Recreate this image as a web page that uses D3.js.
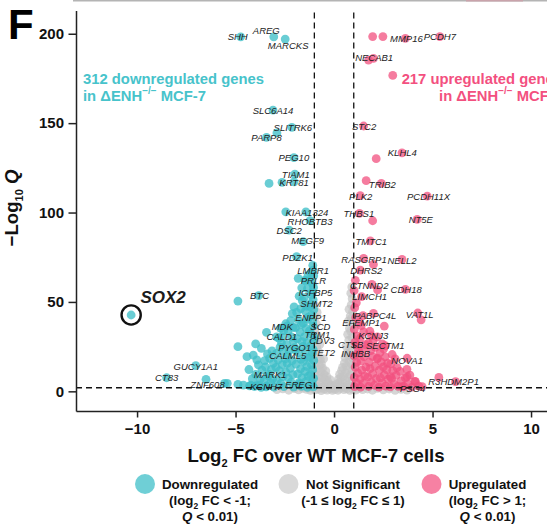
<!DOCTYPE html>
<html><head><meta charset="utf-8">
<script src="https://cdn.jsdelivr.net/npm/d3@7"></script>
<style>
body{margin:0;background:#fff;}
svg{display:block;font-family:"Liberation Sans",Arial,Helvetica,sans-serif;}
</style></head><body>
<svg id="chart" width="547" height="524"></svg>
<script>
// ---- Volcano plot data: log2 fold change vs -log10 Q ----

// Downregulated genes that carry a name tag: [gene, log2FC, -log10 Q]
const downLabeled = [
  ["SHH",-4.74,198.3],["AREG",-3.06,198.3],["MARCKS",-2.48,197.0],["SLC6A14",-3.10,157.3],
  ["SLITRK6",-2.14,147.6],["PARP8",-3.43,142.0],["PEG10",-2.04,130.7],["TIAM1",-1.99,121.5],
  ["KRT81",-2.03,117.2],["KIAA1324",-1.43,100.4],["RHOBTB3",-1.22,95.5],["DSC2",-2.28,90.2],
  ["MEGF9",-1.57,83.7],["PDZK1",-1.90,75.3],["LMBR1",-1.06,67.8],["PRLR",-1.25,62.0],
  ["IGFBP5",-1.10,55.5],["SHMT2",-1.20,49.0],["ENPP1",-1.30,41.5],["SCD",-1.05,36.5],
  ["TRM1",-1.15,32.0],["CDV3",-1.05,28.5],["TET2",-1.10,21.5],["MDK",-2.40,36.5],
  ["CALD1",-2.65,30.5],["PYGO1",-2.00,24.5],["CALML5",-2.35,20.0],["MARK1",-3.30,9.5],
  ["KCNH7",-3.45,2.5],["EREG",-1.80,4.0],["ZNF608",-5.56,4.5],["GUCY1A1",-7.02,14.4],
  ["CT83",-8.50,7.6],["BTC",-3.83,53.5],["SOX2",-10.30,42.7]
];

// Other downregulated genes: [log2FC, -log10 Q]
const downOther = [
  [-2.64,116.9],[-3.30,116.3],[-2.90,144.5],[-2.45,100.4],[-1.82,63.2],[-1.48,62.2],
  [-4.88,50.5],[-4.88,25.0],[-4.42,19.4],[-3.98,26.5],[-3.43,33.0],[-3.69,24.0],[-2.92,30.5],
  [-6.50,6.7],[-5.42,4.5],[-4.88,3.9],[-4.60,3.5],[-4.29,3.0],[-3.95,3.0],
  [-1.05,2.5],[-1.12,4.8],[-1.04,7.2],[-1.20,9.5],[-1.08,12.1],[-1.15,14.6],[-1.03,17.3],
  [-1.22,19.1],[-1.06,23.4],[-1.18,25.6],[-1.02,30.2],[-1.25,33.8],[-1.08,38.9],[-1.14,42.7],
  [-1.03,45.6],[-1.21,47.3],[-1.06,51.2],[-1.16,53.9],[-1.04,58.1],[-1.11,60.4],[-1.03,64.6],
  [-1.18,66.2],[-1.08,70.5],
  [-1.35,2.2],[-1.42,5.6],[-1.31,8.4],[-1.48,11.2],[-1.38,13.9],[-1.55,16.8],[-1.33,18.7],
  [-1.45,22.3],[-1.58,25.1],[-1.36,27.4],[-1.50,30.6],[-1.41,35.2],[-1.57,38.1],[-1.33,40.3],
  [-1.46,44.8],[-1.39,47.6],[-1.52,52.4],[-1.35,57.5],[-1.44,61.8],[-1.32,64.9],
  [-1.65,2.8],[-1.78,4.9],[-1.62,7.7],[-1.85,9.8],[-1.70,12.6],[-1.93,15.2],[-1.68,17.9],
  [-1.80,21.6],[-1.95,23.1],[-1.63,27.8],[-1.87,29.4],[-1.72,33.1],[-1.96,35.6],[-1.66,37.4],
  [-1.82,40.2],[-1.90,44.1],[-1.69,46.3],[-1.61,50.7],[-1.77,53.2],[-1.64,57.9],
  [-2.05,2.3],[-2.18,5.1],[-2.32,7.4],[-2.09,9.3],[-2.45,10.8],[-2.22,12.9],[-2.38,15.6],
  [-2.12,17.2],[-2.48,18.1],[-2.28,22.8],[-2.06,27.9],[-2.41,26.3],[-2.16,30.4],[-2.33,33.7],
  [-2.08,35.8],[-2.20,39.6],[-2.45,37.8],[-2.12,43.5],[-2.03,47.2],
  [-2.55,2.6],[-2.70,4.4],[-2.88,6.1],[-2.60,8.2],[-2.77,11.5],[-2.95,13.4],[-2.63,14.9],
  [-2.84,17.6],[-2.58,22.4],[-2.74,24.7],[-2.92,21.2],[-2.67,27.1],[-2.81,29.8],[-2.56,33.9],
  [-2.72,35.4],
  [-3.05,2.4],[-3.22,4.7],[-3.40,3.1],[-3.12,6.9],[-3.35,8.6],[-3.55,6.2],[-3.18,12.3],
  [-3.48,13.7],[-3.08,15.8],[-3.27,18.4],[-3.52,17.2],[-3.15,22.6],[-3.38,20.9],
  [-3.70,2.2],[-3.88,3.6],[-4.05,2.7],[-4.22,3.4],[-3.75,6.8],[-3.98,9.5],[-4.15,7.1],
  [-3.66,11.9],[-3.84,14.8],[-4.32,12.2],[-3.92,17.6],[-4.10,20.3]
];

// Upregulated genes that carry a name tag: [gene, log2FC, -log10 Q]
const upLabeled = [
  ["MMP16",3.62,197.4],["PCDH7",5.37,198.4],["NECAB1",2.00,186.2],["STC2",1.50,148.4],
  ["KLHL4",3.45,133.4],["TRIB2",2.40,116.3],["PLK2",1.33,109.5],["PCDH11X",4.73,109.2],
  ["THBS1",1.29,99.5],["NT5E",4.22,96.2],["TMTC1",1.84,84.2],["RASGRP1",1.50,74.4],
  ["NELL2",3.45,73.8],["DHRS2",1.33,67.8],["CTNND2",1.92,59.8],["CDH18",3.62,57.0],
  ["LIMCH1",1.40,53.0],["PABPC4L",2.00,43.6],["VAT1L",4.25,43.8],["EFEMP1",1.30,38.5],
  ["KCNJ3",1.90,31.0],["CTSB",1.15,26.0],["SECTM1",2.60,25.5],["INHBB",1.20,21.0],
  ["NOVA1",3.71,18.5],["R3HDM2P1",6.17,5.4],["PSG4",4.47,2.6]
];

// Other upregulated genes: [log2FC, -log10 Q]
const upOther = [
  [1.96,198.4],[2.48,198.4],[1.75,185.3],[2.98,176.7],[2.14,130.1],[1.63,117.8],[1.96,95.4],
  [2.21,56.7],[2.00,71.0],[2.55,36.5],[4.42,40.0],[5.32,7.8],[3.71,8.2],[4.13,5.4],[2.21,18.5],
  [2.86,8.2],
  [1.04,2.6],[1.12,4.9],[1.03,7.8],[1.20,10.3],[1.07,13.6],[1.15,16.2],[1.02,19.8],[1.24,23.1],
  [1.06,27.4],[1.17,30.9],[1.03,34.6],[1.10,41.2],[1.05,46.8],[1.13,49.5],[1.02,56.3],[1.08,62.1],
  [1.35,2.3],[1.48,4.4],[1.32,6.9],[1.56,8.7],[1.41,11.8],[1.62,13.5],[1.36,16.9],[1.52,19.4],
  [1.44,23.7],[1.60,26.1],[1.33,29.8],[1.50,33.2],[1.38,36.7],[1.47,42.3],
  [1.75,2.7],[1.88,5.3],[2.05,3.4],[1.72,8.1],[1.96,9.9],[2.15,7.2],[1.83,12.7],[2.08,14.1],
  [1.78,16.3],[1.94,19.5],[2.18,18.2],[1.86,22.8],[2.10,24.6],[1.74,26.9],[1.98,28.3],[2.20,30.4],
  [1.82,33.6],
  [2.28,2.4],[2.45,4.6],[2.62,2.9],[2.35,7.5],[2.55,9.2],[2.75,6.8],[2.30,11.9],[2.50,13.7],
  [2.68,12.1],[2.40,16.4],[2.60,19.3],[2.33,21.7],[2.52,23.8],[2.72,15.7],[2.45,26.5],
  [2.85,2.5],[3.05,4.1],[3.25,2.8],[2.92,7.3],[3.15,8.9],[3.40,5.9],[2.98,11.6],[3.20,13.2],
  [2.88,15.4],[3.10,18.1],[3.35,11.2],[2.95,20.6],
  [3.55,2.7],[3.75,4.2],[3.95,2.3],[3.62,7.5],[3.85,9.1],[4.10,5.6],[3.70,12.3],[4.30,2.9],[3.45,2.6]
];

// Genes that are not significant: [log2FC, -log10 Q]
const notSig = [
  [-0.95,3.1],[-0.90,6.4],[-0.97,9.8],[-0.85,12.5],[-0.93,15.7],[-0.80,18.3],[-0.96,21.4],
  [-0.88,24.9],[-0.92,28.6],[-0.83,31.2],[-0.97,34.5],[-0.90,37.8],[-0.95,41.6],[-0.86,44.3],
  [-0.98,48.1],
  [-0.75,2.4],[-0.70,5.3],[-0.78,8.9],[-0.66,11.1],[-0.74,14.6],[-0.69,17.8],[-0.77,22.1],
  [-0.72,26.3],[-0.80,29.1],
  [-0.60,2.2],[-0.55,4.8],[-0.62,7.6],[-0.50,9.4],[-0.58,12.9],[-0.64,15.3],[-0.53,18.2],
  [-0.45,2.6],[-0.40,4.5],[-0.48,6.9],[-0.36,8.2],[-0.42,11.4],
  [-0.30,2.1],[-0.25,3.9],[-0.33,5.8],[-0.20,6.6],
  [-0.15,2.4],[-0.10,3.5],[-0.05,1.8],[0.02,2.9],[0.08,3.6],[0.12,2.2],[0.18,4.4],
  [0.25,3.1],[0.30,5.2],[0.22,6.8],[0.35,7.9],[0.28,9.5],
  [0.40,2.5],[0.45,4.9],[0.38,11.6],[0.48,8.3],[0.43,13.4],[0.52,15.8],
  [0.55,2.3],[0.60,6.1],[0.58,10.4],[0.63,14.2],[0.56,18.9],[0.66,21.5],[0.61,25.3],
  [0.70,3.4],[0.74,7.8],[0.68,12.1],[0.77,16.6],[0.72,19.8],[0.80,24.2],[0.75,28.6],[0.69,31.9],
  [0.78,35.2],[0.73,39.4],[0.82,42.1],[0.76,45.9],
  [0.85,2.7],[0.90,5.6],[0.83,9.2],[0.95,11.8],[0.88,15.3],[0.93,18.7],[0.86,22.6],[0.97,26.4],
  [0.91,30.1],[0.84,33.7],[0.96,37.3],[0.89,40.8],[0.94,44.6],[0.87,48.3],[0.92,51.8],[0.85,54.9],
  [0.90,58.4],
  [-2.90,0.9],[-2.60,1.4],[-2.30,0.6],[-2.00,1.5],[-1.80,0.8],[-1.60,1.7],[-1.40,1.1],[-1.20,0.5],
  [-1.10,1.6],[-0.95,0.8],[-0.80,1.3],[-0.65,0.4],[-0.50,1.2],[-0.35,0.7],[-0.20,1.5],[-0.08,0.5],
  [0.05,1.1],[0.20,0.6],[0.33,1.6],[0.50,0.9],[0.65,1.4],[0.80,0.5],[0.95,1.2],[1.10,0.7],
  [1.25,1.5],[1.45,0.9],[1.70,1.3],[1.95,0.6],[2.20,1.6],[2.50,0.8],[2.80,1.3],[3.10,0.5],
  [3.40,1.1],[3.70,0.7]
];

// Axis ticks and thresholds
const xTicks = [-10, -5, 0, 5, 10];
const yTicks = [0, 50, 100, 150, 200];
const fcCut = 1;
const qCut = 2;           // -log10(0.01)
const nDown = 312, nUp = 217;

// ---- Label placement (pixel nudges from each point) ----
const nudge = {
  SHH:[-3,0],AREG:[-7.5,-6],MARCKS:[3,6.5],SLC6A14:[0,0],SLITRK6:[1,0],PARP8:[0,0],PEG10:[0,0],
  TIAM1:[1,0],KRT81:[0,1],KIAA1324:[1,0.5],RHOBTB3:[0,1],DSC2:[0,0],MEGF9:[4.5,-1.5],PDZK1:[1,1],
  LMBR1:[0,0],PRLR:[4,0],IGFBP5:[3,0],SHMT2:[6,0],ENPP1:[2.5,0],SCD:[7,0],TRM1:[6,0],CDV3:[8.5,0.5],
  TET2:[11,0],MDK:[-4.5,0],CALD1:[0,0],PYGO1:[0,0],CALML5:[0,0],MARK1:[1,0],KCNH7:[0,0],EREG:[0,0],
  ZNF608:[-17,1],GUCY1A1:[0,1],CT83:[0,0],BTC:[1,-0.5],SOX2:[32,-17],
  MMP16:[1,0],PCDH7:[0,0],NECAB1:[0.7,-1],STC2:[0.5,0],KLHL4:[0.3,-0.4],TRIB2:[1,0.7],PLK2:[0.5,1],
  PCDH11X:[1.3,0],THBS1:[-0.6,0],NT5E:[3.6,0],TMTC1:[1,1],RASGRP1:[0.4,0.7],NELL2:[0,1.4],
  DHRS2:[6,0.7],CTNND2:[-2.7,1.4],CDH18:[0.8,0],LIMCH1:[8,0],PABPC4L:[1.7,1.7],VAT1L:[2,1],
  EFEMP1:[1.5,0],KCNJ3:[1.7,0],CTSB:[-6,0],SECTM1:[0,-0.7],INHBB:[-2,0],NOVA1:[0,2.4],
  R3HDM2P1:[-2,0],PSG4:[-9.5,1.6]
};

const COL = {down:"#3fbfc8", up:"#f2507f", ns:"#c4c4c4", ink:"#1c1c1c"};

const svg = d3.select("#chart");

const x = d3.scaleLinear().domain([-13.1, 13.1]).range([76, 592.1]);
const y = d3.scaleLinear().domain([-11, 213]).range([411, 10.5]);

// thin frame remnant along the top edge
svg.append("line").attr("x1",73).attr("x2",547).attr("y1",0.8).attr("y2",0.8)
  .attr("stroke","#b4b4b4").attr("stroke-width",1.6);
svg.append("line").attr("x1",466).attr("x2",523).attr("y1",0.8).attr("y2",0.8)
  .attr("stroke","#c9a3ab").attr("stroke-width",1.6);

// ---- points ----
const R = 4.4;
const gPts = svg.append("g");
function dots(data, fill, op, fx, fy){
  gPts.append("g").selectAll("circle").data(data).join("circle")
    .attr("cx", d => x(fx(d))).attr("cy", d => y(fy(d))).attr("r", R)
    .attr("fill", fill).attr("fill-opacity", op);
}
dots(notSig, COL.ns, 0.7, d=>d[0], d=>d[1]);
dots(downOther, COL.down, 0.78, d=>d[0], d=>d[1]);
dots(downLabeled, COL.down, 0.78, d=>d[1], d=>d[2]);
dots(upOther, COL.up, 0.75, d=>d[0], d=>d[1]);
dots(upLabeled, COL.up, 0.75, d=>d[1], d=>d[2]);

// ---- threshold lines ----
const gTh = svg.append("g").attr("stroke","#111").attr("stroke-width",1.3).attr("stroke-dasharray","6,4");
[-fcCut, fcCut].forEach(v => {
  gTh.append("line").attr("x1",x(v)).attr("x2",x(v)).attr("y1",12.5).attr("y2",411);
});
gTh.append("line").attr("x1",76).attr("x2",592).attr("y1",y(qCut)).attr("y2",y(qCut));

// ---- axes ----
const gx = svg.append("g").attr("transform","translate(0,411)")
  .call(d3.axisBottom(x).tickValues(xTicks).tickSize(6.5).tickSizeOuter(0).tickPadding(6));
const gy = svg.append("g").attr("transform","translate(76,0)")
  .call(d3.axisLeft(y).tickValues(yTicks).tickSize(7.5).tickSizeOuter(0).tickPadding(4.5));
[gx, gy].forEach(g => {
  g.selectAll("path,line").attr("stroke","#222").attr("stroke-width",1.5);
  g.selectAll("text").attr("font-family","Liberation Sans, Arial, sans-serif")
    .attr("font-size",15).attr("font-weight","bold").attr("fill","#111");
});

// ---- SOX2 highlight ring ----
const sox = downLabeled.find(d => d[0] === "SOX2");
svg.append("circle").attr("cx",x(sox[1])).attr("cy",y(sox[2])).attr("r",9.6)
  .attr("fill","none").attr("stroke","#111").attr("stroke-width",2.4);

// ---- gene labels ----
const gLab = svg.append("g").attr("font-style","italic").attr("fill",COL.ink)
  .attr("text-anchor","middle").attr("dominant-baseline","central");
downLabeled.concat(upLabeled).forEach(d => {
  const n = nudge[d[0]] || [0,0];
  const t = gLab.append("text").attr("x", x(d[1]) + n[0]).attr("y", y(d[2]) + n[1]).text(d[0]);
  if (d[0] === "SOX2") t.attr("font-size",17).attr("font-weight","bold");
  else t.attr("font-size",9.5);
});

// ---- group counts ----
function countText(lines, xPos, anchor, color){
  const g = svg.append("g").attr("fill",color).attr("font-weight","bold").attr("font-size",14.8)
    .attr("text-anchor",anchor);
  g.append("text").attr("x",xPos).attr("y",83.5).text(lines);
  const t2 = g.append("text").attr("x",xPos).attr("y",100.5);
  t2.append("tspan").text("in \u0394ENH");
  t2.append("tspan").attr("font-size",10).attr("dy",-7).text("\u2212/\u2212");
  t2.append("tspan").attr("dy",7).text(" MCF-7");
}
countText(`${nDown} downregulated genes`, 83, "start", "#47c3cb");
countText(`${nUp} upregulated genes`, 562, "end", "#f3507f");

// ---- panel letter ----
svg.append("text").attr("x",8).attr("y",38.5).attr("font-size",42).attr("font-weight","bold")
  .attr("fill","#000").text("F");

// ---- axis titles ----
const yt = svg.append("text").attr("transform","translate(18,208) rotate(-90)")
  .attr("text-anchor","middle").attr("font-weight","bold").attr("font-size",18.6).attr("fill","#111");
yt.append("tspan").text("\u2212Log");
yt.append("tspan").attr("font-size",11).attr("dy",5).text("10");
yt.append("tspan").attr("dy",-5).text(" ");
yt.append("tspan").attr("font-style","italic").text("Q");

const xt = svg.append("text").attr("x",316).attr("y",461.5)
  .attr("text-anchor","middle").attr("font-weight","bold").attr("font-size",18.6).attr("fill","#111");
xt.append("tspan").text("Log");
xt.append("tspan").attr("font-size",11).attr("dy",5).text("2");
xt.append("tspan").attr("dy",-5).text(" FC over WT MCF-7 cells");

// ---- legend ----
const legend = [
  {color:COL.down, op:0.75, cx:145, tx:210, lines:[
    [["Downregulated"]],
    [["(log"],["2","sub"],[" FC < -1;"]],
    [["Q","it"],[" < 0.01)"]]]},
  {color:"#d9d9d9", op:1, cx:288.5, tx:353, lines:[
    [["Not Significant"]],
    [["(-1 \u2264 log"],["2","sub"],[" FC \u2264 1)"]]]},
  {color:COL.up, op:0.72, cx:431.5, tx:487.5, lines:[
    [["Upregulated"]],
    [["(log"],["2","sub"],[" FC > 1;"]],
    [["Q","it"],[" < 0.01)"]]]}
];
const gL = svg.append("g").attr("font-weight","bold").attr("font-size",13.3).attr("fill","#111");
legend.forEach(L => {
  gL.append("circle").attr("cx",L.cx).attr("cy",484).attr("r",10)
    .attr("fill",L.color).attr("fill-opacity",L.op);
  L.lines.forEach((parts, i) => {
    const t = gL.append("text").attr("x",L.tx).attr("y",488.5 + i*16).attr("text-anchor","middle");
    let shifted = false;
    parts.forEach(p => {
      const s = t.append("tspan").text(p[0]);
      if (p[1] === "sub") { s.attr("font-size",8.5).attr("dy",4); shifted = true; }
      else if (shifted) { s.attr("dy",-4); shifted = false; }
      if (p[1] === "it") s.attr("font-style","italic");
    });
  });
});
</script>
</body></html>
